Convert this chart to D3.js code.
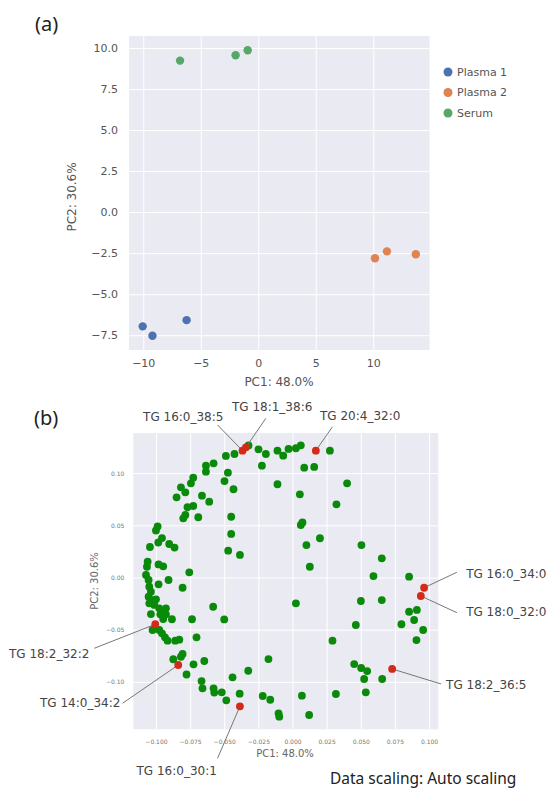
<!DOCTYPE html>
<html>
<head>
<meta charset="utf-8">
<script src="https://cdn.jsdelivr.net/npm/d3@7"></script>
<style>
  body { margin: 0; background: #fff; }
  svg text { font-family: "DejaVu Sans", sans-serif; }
</style>
</head>
<body>
<svg id="chart" width="549" height="789"></svg>
<script>
// ---------- panel (a): PCA scores ----------
const groups = ['Plasma 1', 'Plasma 2', 'Serum'];
const groupColors = ['#4c72b0', '#dd8452', '#55a868'];
const scorePC1 = [[-10.05, -9.2, -6.23], [10.15, 11.19, 13.7], [-6.8, -1.97, -0.92]];
const scorePC2 = [[-6.96, -7.53, -6.58], [-2.81, -2.39, -2.57], [9.23, 9.56, 9.86]];
const scoreXTicks = [-10, -5, 0, 5, 10];
const scoreYTicks = [-7.5, -5, -2.5, 0, 2.5, 5, 7.5, 10];

// ---------- panel (b): loadings ----------
const loadPC1 = [-0.0488,-0.0425,-0.0322,-0.0249,-0.0195,-0.0110,-0.0068,-0.0029,0.0025,0.0061,
  0.0274,-0.0224,0.0086,0.0159,
  -0.0578,-0.0634,-0.0634,-0.0473,-0.0727,-0.0498,-0.0744,-0.0817,-0.0785,-0.0432,
  -0.0110,0.0400,-0.0849,-0.0663,-0.0610,0.0054,0.0322,-0.0727,-0.0769,-0.0785,
  -0.0800,-0.0690,-0.0449,
  -0.0988,-0.1000,0.0061,0.0073,-0.0956,-0.0983,-0.0903,-0.0864,-0.1044,-0.0449,
  0.0102,0.0201,-0.0471,-0.0385,-0.1061,-0.1066,-0.0981,-0.0947,-0.0756,0.0127,
  0.0505,0.0654,0.0593,0.0854,
  0.0501,0.0654,0.0025,0.0854,0.0911,0.0891,0.0798,0.0957,0.0464,0.0908,0.0293,
  -0.1073,-0.1054,-0.0981,-0.0908,-0.0805,-0.1049,-0.1037,-0.1054,-0.1029,-0.1000,
  -0.1049,-0.1012,-0.0976,-0.0952,-0.0927,-0.0927,-0.1037,-0.0968,-0.0947,-0.0883,
  -0.0736,-0.0500,-0.0581,
  -0.1025,-0.0976,-0.0956,-0.0934,-0.0915,-0.0859,-0.0829,-0.0703,-0.0805,-0.0817,-0.0873,
  -0.0725,-0.0646,-0.0176,-0.0324,-0.0776,-0.0439,-0.0666,-0.0659,-0.0578,-0.0573,
  -0.0518,-0.0485,-0.0387,-0.0218,-0.0163,0.0069,0.0318,0.0537,
  -0.0102,-0.0097,0.0122,
  0.0452,0.0503,0.0547,0.0525,0.0657];
const loadPC2 = [0.1164,0.1183,0.1265,0.1228,0.1183,0.1215,0.1167,0.1231,0.1238,0.1266,
  0.1215,0.1071,0.1052,0.1059,
  0.1094,0.1071,0.1014,0.1004,0.0956,0.0924,0.0902,0.0864,0.0816,0.0845,
  0.0893,0.0902,0.0768,0.0784,0.0726,0.0797,0.0701,0.0685,0.0673,0.0599,
  0.0567,0.0577,0.0582,
  0.0489,0.0450,0.0503,0.0527,0.0378,0.0335,0.0321,0.0287,0.0292,0.0417,
  0.0311,0.0376,0.0257,0.0216,0.0151,0.0103,0.0125,0.0107,0.0050,0.0103,
  0.0311,0.0184,0.0014,0.0008,
  -0.0225,-0.0216,-0.0247,-0.0328,-0.0311,-0.0407,-0.0448,-0.0503,-0.0455,-0.0599,-0.0605,
  0.0024,-0.0024,-0.0065,-0.0024,-0.0098,-0.0088,-0.0136,-0.0184,-0.0216,-0.0209,
  -0.0247,-0.0263,-0.0295,-0.0328,-0.0295,-0.0353,-0.0350,-0.0353,-0.0398,-0.0400,
  -0.0400,-0.0402,-0.0280,
  -0.0503,-0.0503,-0.0535,-0.0573,-0.0605,-0.0605,-0.0596,-0.0573,-0.0733,-0.0759,-0.0783,
  -0.0832,-0.0800,-0.0781,-0.0893,-0.0929,-0.0956,-0.0992,-0.1062,-0.1062,-0.1102,
  -0.1100,-0.1176,-0.1113,-0.1135,-0.1171,-0.1132,-0.1116,-0.1100,
  -0.1301,-0.1333,-0.1317,
  -0.0829,-0.0867,-0.0896,-0.0972,-0.0972];

// highlighted lipids (red)
const lipidNames = ['TG 16:0_38:5', 'TG 18:1_38:6', 'TG 20:4_32:0', 'TG 16:0_34:0', 'TG 18:0_32:0',
  'TG 18:2_36:5', 'TG 18:2_32:2', 'TG 14:0_34:2', 'TG 16:0_30:1'];
const lipidPC1 = [-0.0366, -0.0341, 0.0171, 0.0964, 0.0940, 0.0730, -0.1005, -0.0837, -0.0385];
const lipidPC2 = [0.1215, 0.1247, 0.1215, -0.0098, -0.0177, -0.0876, -0.0448, -0.0838, -0.1234];

const loadXTicks = [-0.1, -0.075, -0.05, -0.025, 0, 0.025, 0.05, 0.075, 0.1];
const loadYTicks = [-0.1, -0.05, 0, 0.05, 0.1];

// label placement (data units): text anchor point, leader-line start
const labelLayout = [
  { tx: -0.0800, ty: 0.1499, anchor: 'middle', lx: -0.0549, ly: 0.1461 },
  { tx: -0.0149, ty: 0.1595, anchor: 'middle', lx: -0.0195, ly: 0.1525 },
  { tx: 0.0496, ty: 0.1509, anchor: 'middle', lx: 0.0293, ly: 0.1444 },
  { tx: 0.1272, ty: -0.0005, anchor: 'start', lx: 0.1204, ly: 0.0050 },
  { tx: 0.1272, ty: -0.0369, anchor: 'start', lx: 0.1204, ly: -0.0337 },
  { tx: 0.1125, ty: -0.1068, anchor: 'start', lx: 0.1089, ly: -0.1020 },
  { tx: -0.1488, ty: -0.0771, anchor: 'end', lx: -0.1452, ly: -0.0678 },
  { tx: -0.1261, ty: -0.1240, anchor: 'end', lx: -0.1245, ly: -0.1205 },
  { tx: -0.0848, ty: -0.1892, anchor: 'middle', lx: -0.0549, ly: -0.1732 }
];

const svg = d3.select('#chart');

// draws the grey seaborn-like background with white grid and tick labels
function drawFrame(x, y, xTicks, yTicks, xFmt, yFmt, fontSize, xPad, yPad, textColor) {
  let [x0, x1] = x.range();
  let [y1, y0] = y.range();
  svg.append('rect')
    .attr('x', x0).attr('y', y0)
    .attr('width', x1 - x0).attr('height', y1 - y0)
    .attr('fill', '#eaeaf2');

  let gx = svg.append('g')
    .attr('transform', `translate(0,${y1})`)
    .call(d3.axisBottom(x).tickValues(xTicks).tickFormat(xFmt)
      .tickSize(-(y1 - y0)).tickPadding(xPad));
  let gy = svg.append('g')
    .attr('transform', `translate(${x0},0)`)
    .call(d3.axisLeft(y).tickValues(yTicks).tickFormat(yFmt)
      .tickSize(-(x1 - x0)).tickPadding(yPad));

  [gx, gy].forEach(g => {
    g.select('.domain').remove();
    g.selectAll('.tick line').attr('stroke', '#ffffff').attr('stroke-width', 1);
    g.selectAll('.tick text')
      .attr('fill', textColor)
      .style('font-size', fontSize + 'px')
      .style('font-family', '"DejaVu Sans", sans-serif');
  });
}

// ---------- panel (a) ----------
let xA = d3.scaleLinear().domain([-11.24, 14.89]).range([129, 429.5]);
let yA = d3.scaleLinear().domain([-8.40, 10.73]).range([350, 36]);

drawFrame(xA, yA, scoreXTicks, scoreYTicks, d3.format('d'), d3.format('.1f'), 11, 9, 11, '#555');

groups.forEach((name, i) => {
  svg.append('g')
    .selectAll('circle')
    .data(d3.range(scorePC1[i].length))
    .enter()
    .append('circle')
    .attr('cx', j => xA(scorePC1[i][j]))
    .attr('cy', j => yA(scorePC2[i][j]))
    .attr('r', 4.2)
    .attr('fill', groupColors[i]);
});

// legend
let legend = svg.append('g').attr('transform', 'translate(448,72)');
groups.forEach((name, i) => {
  legend.append('circle')
    .attr('cx', 0).attr('cy', i * 20.5)
    .attr('r', 4.5).attr('fill', groupColors[i]);
  legend.append('text')
    .attr('x', 9).attr('y', i * 20.5)
    .attr('dy', '0.35em')
    .attr('fill', '#555')
    .style('font-size', '11px')
    .text(name);
});

svg.append('text')
  .attr('x', 279).attr('y', 386)
  .attr('text-anchor', 'middle').attr('fill', '#555')
  .style('font-size', '12px')
  .text('PC1: 48.0%');
svg.append('text')
  .attr('transform', 'translate(76,197) rotate(-90)')
  .attr('text-anchor', 'middle').attr('fill', '#555')
  .style('font-size', '12px')
  .text('PC2: 30.6%');

svg.append('text')
  .attr('x', 35).attr('y', 31)
  .style('font-family', '"Noto Sans", sans-serif')
  .style('font-size', '20px').attr('fill', '#222')
  .text('(a)');

// ---------- panel (b) ----------
let xB = d3.scaleLinear().domain([-0.1166, 0.1068]).range([133.3, 438.3]);
let yB = d3.scaleLinear().domain([-0.1454, 0.1384]).range([729.3, 433]);

drawFrame(xB, yB, loadXTicks, loadYTicks, d3.format('.3f'), d3.format('.2f'), 6, 10, 9, '#777');

svg.append('g')
  .selectAll('circle')
  .data(d3.range(loadPC1.length))
  .enter()
  .append('circle')
  .attr('cx', i => xB(loadPC1[i]))
  .attr('cy', i => yB(loadPC2[i]))
  .attr('r', 3.9)
  .attr('fill', '#0a8a0a');

// leader lines and labels
let notes = svg.append('g');
lipidNames.forEach((name, i) => {
  let L = labelLayout[i];
  notes.append('line')
    .attr('x1', xB(L.lx)).attr('y1', yB(L.ly))
    .attr('x2', xB(lipidPC1[i])).attr('y2', yB(lipidPC2[i]))
    .attr('stroke', '#777').attr('stroke-width', 1);
  notes.append('text')
    .attr('x', xB(L.tx)).attr('y', yB(L.ty))
    .attr('text-anchor', L.anchor)
    .attr('fill', '#444')
    .style('font-size', '12px')
    .text(name);
});

svg.append('g')
  .selectAll('circle')
  .data(d3.range(lipidNames.length))
  .enter()
  .append('circle')
  .attr('cx', i => xB(lipidPC1[i]))
  .attr('cy', i => yB(lipidPC2[i]))
  .attr('r', 3.9)
  .attr('fill', '#d42a1a');

svg.append('text')
  .attr('x', 285).attr('y', 757)
  .attr('text-anchor', 'middle').attr('fill', '#666')
  .style('font-size', '10px')
  .text('PC1: 48.0%');
svg.append('text')
  .attr('transform', 'translate(98,581) rotate(-90)')
  .attr('text-anchor', 'middle').attr('fill', '#666')
  .style('font-size', '10px')
  .text('PC2: 30.6%');

svg.append('text')
  .attr('x', 34).attr('y', 425)
  .style('font-family', '"Noto Sans", sans-serif')
  .style('font-size', '20px').attr('fill', '#222')
  .text('(b)');

svg.append('text')
  .attr('x', 330).attr('y', 784)
  .style('font-family', '"Noto Sans", sans-serif')
  .style('font-size', '15.5px').attr('fill', '#222')
  .text('Data scaling: Auto scaling');
</script>
</body>
</html>
